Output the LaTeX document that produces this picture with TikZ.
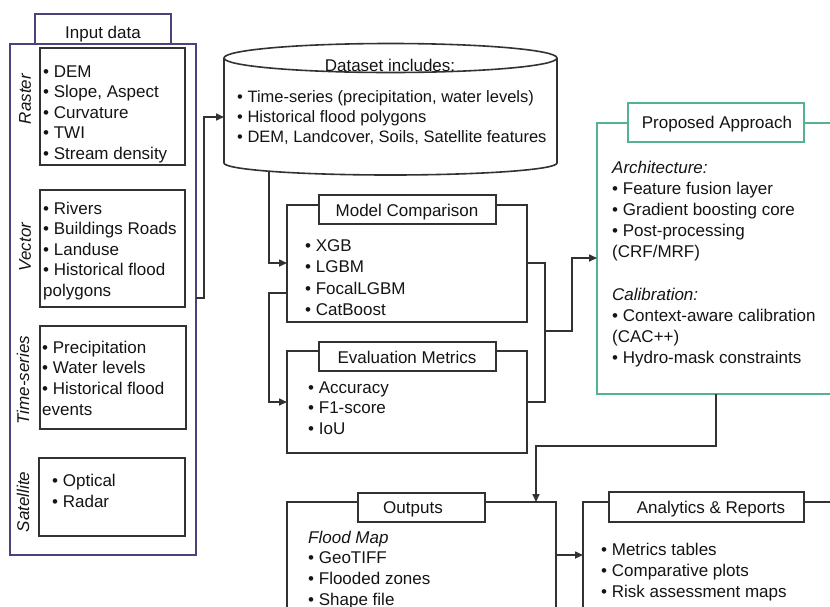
\documentclass[tikz,border=0pt]{standalone}
\usepackage{fontspec}
\setmainfont{Liberation Sans}
\usetikzlibrary{arrows.meta}
\definecolor{ink}{RGB}{50,50,50}
\definecolor{purp}{RGB}{78,66,122}
\definecolor{grn}{RGB}{84,178,142}
\definecolor{txtc}{RGB}{20,20,20}
\newcommand\mkbox[6]{\node[#6,minimum width={#4-#2},minimum height={#5-#3}] (#1) at (#2,#3) {};}
\begin{document}
\begin{tikzpicture}[x=1pt,y=-1pt,
  box/.style={draw=ink, line width=1.6pt, anchor=north west, inner sep=0pt, outer sep=0pt},
  tab/.style={box, fill=white},
  txt/.style={anchor=base west, inner sep=0pt, text=txtc, font=\fontsize{17}{20}\selectfont},
  ttl/.style={anchor=base, inner sep=0pt, text=txtc, font=\fontsize{17}{20}\selectfont},
  lbl/.style={rotate=90, inner sep=0pt, text=txtc, font=\fontsize{17}{20}\selectfont\itshape},
  ln/.style={draw=ink, line width=1.6pt},
  arr/.style={ln, -{Triangle[length=8pt,width=7pt]}},
]
\useasboundingbox (0,0) rectangle (830,606);
\clip (0,0) rectangle (830,606);

% ---------- Input data ----------
\mkbox{inbox}{10}{44}{196}{555}{box,draw=purp}
\mkbox{intab}{35}{14}{171}{44}{tab,draw=purp}
\node[ttl] (intitle) at (103,38) {Input data};

\mkbox{raster}{40}{48}{185}{165}{box}
\mkbox{vector}{40}{190}{185}{307}{box}
\mkbox{tsbox}{40}{326}{186}{429}{box}
\mkbox{satbox}{39}{458}{185}{536}{box}

\node[lbl] (lraster) at (25,99) {Raster};
\node[lbl] (lvector) at (25,247) {Vector};
\node[lbl] (lts) at (23,380) {Time-series};
\node[lbl] (lsat) at (23,502) {Satellite};

\foreach \t [count=\i from 0] in {{• DEM},{• Slope, Aspect},{• Curvature},{• TWI},{• Stream density}}
  \node[txt] (r\i) at (43,{77+20.5*\i}) {\t};
\foreach \t [count=\i from 0] in {{• Rivers},{• Buildings Roads},{• Landuse},{• Historical flood},{polygons}}
  \node[txt] (v\i) at (43,{214+20.5*\i}) {\t};
\foreach \t [count=\i from 0] in {{• Precipitation},{• Water levels},{• Historical flood},{events}}
  \node[txt] (t\i) at (42,{353+20.7*\i}) {\t};
\foreach \t [count=\i from 0] in {{• Optical},{• Radar}}
  \node[txt] (s\i) at (52,{486+21*\i}) {\t};

% ---------- Dataset cylinder ----------
\node[inner sep=0pt, outer sep=0pt, anchor=north west, minimum width=333, minimum height=105] (ds) at (224,58) {};
\draw[ln] (ds.north west) -- (ds.south west)
   arc[start angle=180, end angle=360, x radius=166.5pt, y radius=12pt] -- (ds.north east);
\draw[ln] (ds.north) ellipse [x radius=166.5pt, y radius=14.5pt];
\node[ttl] (dstitle) at (390,71) {Dataset includes:};
\foreach \t [count=\i from 0] in {{• Time-series (precipitation, water levels)},{• Historical flood polygons},{• DEM, Landcover, Soils, Satellite features}}
  \node[txt,font=\fontsize{16.5}{20}\selectfont] (d\i) at (237,{102+20*\i}) {\t};

% ---------- Model comparison ----------
\mkbox{mc}{287}{205}{527}{322}{box}
\mkbox{mctab}{319}{195}{496}{224}{tab}
\node[ttl] (mctitle) at (407,216) {Model Comparison};
\foreach \t [count=\i from 0] in {{• XGB},{• LGBM},{• FocalLGBM},{• CatBoost}}
  \node[txt] (m\i) at (305,{251+21.5*\i}) {\t};

% ---------- Evaluation metrics ----------
\mkbox{em}{287}{351}{527}{453}{box}
\mkbox{emtab}{319}{342}{496}{371}{tab}
\node[ttl] (emtitle) at (407,363) {Evaluation Metrics};
\foreach \t [count=\i from 0] in {{• Accuracy},{• F1-score},{• IoU}}
  \node[txt] (e\i) at (308,{393+20.5*\i}) {\t};

% ---------- Proposed approach ----------
\mkbox{pa}{597}{123}{870}{394}{box,draw=grn,line width=1.4pt}
\mkbox{patab}{628}{103}{804}{142}{tab,draw=grn,line width=1.4pt}
\node[ttl] (patitle) at (717,128) {Proposed Approach};
\foreach \t [count=\i from 0] in {{\textit{Architecture:}},{• Feature fusion layer},{• Gradient boosting core},{• Post-processing},{(CRF/MRF)}}
  \node[txt] (pa\i) at (612,{173+21.2*\i}) {\t};
\foreach \t [count=\i from 0] in {{\textit{Calibration:}},{• Context-aware calibration},{(CAC++)},{• Hydro-mask constraints}}
  \node[txt] (pb\i) at (612,{300+21*\i}) {\t};

% ---------- Outputs ----------
\mkbox{out}{287}{502}{556}{650}{box}
\mkbox{outtab}{358}{493}{485}{522}{tab}
\node[ttl] (outtitle) at (413,513) {Outputs};
\foreach \t [count=\i from 0] in {{\textit{Flood Map}},{• GeoTIFF},{• Flooded zones},{• Shape file}}
  \node[txt] (o\i) at (308,{543+20.7*\i}) {\t};

% ---------- Analytics ----------
\mkbox{an}{583}{502}{870}{650}{box}
\mkbox{antab}{609}{492}{804}{522}{tab}
\node[ttl] (antitle) at (711,513) {Analytics \& Reports};
\foreach \t [count=\i from 0] in {{• Metrics tables},{• Comparative plots},{• Risk assessment maps}}
  \node[txt] (a\i) at (601,{555+21*\i}) {\t};

% ---------- Connectors ----------
\coordinate (j1) at (204,298);
\coordinate (j2) at (204,117);
\draw[arr] (inbox.east |- j1) -- (j1) -- (j2) -- (ds.west |- j2);

\coordinate (j3a) at (269,171);
\coordinate (j3) at (269,263);
\draw[arr] (j3a) -- (j3) -- (mc.west |- j3);

\coordinate (j4) at (269,293);
\coordinate (j5) at (269,402);
\draw[arr] (mc.west |- j4) -- (j4) -- (j5) -- (em.west |- j5);

\coordinate (j6) at (545,263);
\coordinate (j7) at (545,402);
\draw[ln] (mc.east |- j6) -- (j6) -- (j7) -- (em.east |- j7);
\coordinate (j8) at (545,331);
\coordinate (j9) at (572,331);
\coordinate (j10) at (572,258);
\draw[arr] (j8) -- (j9) -- (j10) -- (pa.west |- j10);

\coordinate (j11) at (716,446);
\coordinate (j12) at (536,446);
\draw[arr] (pa.south -| j11) -- (j11) -- (j12) -- (out.north -| j12);

\coordinate (j13) at (570,555);
\draw[arr] (out.east |- j13) -- (an.west |- j13);
\end{tikzpicture}
\end{document}
